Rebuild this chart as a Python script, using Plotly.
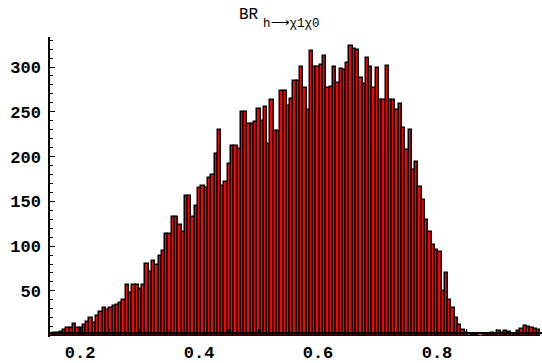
import numpy as np
import plotly.graph_objects as go

# histogram data
bin_start = 0.1495
bin_width = 0.00553
counts = [
    2, 3, 3, 4, 6, 9, 9, 13, 8, 8,
    12, 15, 20, 14, 22, 26, 31, 29, 31, 33,
    34, 37, 40, 57, 48, 57, 57, 52, 57, 80,
    71, 83, 79, 89, 94, 114, 114, 132, 132, 124,
    116, 156, 156, 132, 145, 165, 167, 165, 176, 179,
    203, 230, 167, 172, 192, 212, 212, 208, 250, 250,
    236, 236, 239, 253, 240, 255, 214, 263, 228, 228,
    273, 273, 257, 264, 284, 284, 300, 276, 252, 318,
    300, 300, 302, 312, 277, 278, 300, 282, 298, 297,
    304, 324, 320, 319, 288, 281, 310, 300, 276, 299,
    263, 263, 301, 263, 263, 252, 259, 232, 207, 230,
    185, 194, 166, 151, 129, 116, 101, 96, 93, 50,
    70, 40, 31, 20, 12, 6, 3, 0, 1, 2,
    0, 0, 2, 2, 3, 2, 5, 3, 5, 4,
    2, 2, 5, 7, 11, 10, 8, 7, 6,
]
x_ticks = [0.2, 0.4, 0.6, 0.8]
x_tick_labels = ["0.2", "0.4", "0.6", "0.8"]
y_ticks = [50, 100, 150, 200, 250, 300]
y_tick_labels = ["50", "100", "150", "200", "250", "300"]
title_main = "BR"
title_sub = "h\u27f6\u03c71\u03c70"

centers = bin_start + (np.arange(len(counts)) + 0.5) * bin_width

y_lo, y_hi = -1.5, 333.5
axis_y = 3.1

fig = go.Figure()
fig.add_trace(go.Bar(
    x=centers, y=counts, width=bin_width,
    marker=dict(color="#ff0000", line=dict(color="black", width=1.5)),
    hoverinfo="skip",
))

font_fam = "Liberation Mono"
fig.update_layout(
    width=542, height=363,
    margin=dict(l=50, r=0, t=37, b=26),
    paper_bgcolor="white", plot_bgcolor="white",
    showlegend=False, bargap=0,
    xaxis=dict(
        range=[0.1495, 0.9765], anchor="free", position=(axis_y - y_lo) / (y_hi - y_lo),
        showgrid=False, zeroline=False, showline=True, linecolor="black", linewidth=1.5,
        tickmode="array", tickvals=x_ticks, ticktext=x_tick_labels,
        ticks="inside", ticklen=5, tickwidth=1, tickcolor="black",
        minor=dict(dtick=0.05, tick0=0, ticks="inside", ticklen=3, tickcolor="black"),
        tickfont=dict(family=font_fam, size=17, color="black", weight="bold"),
        ticklabelstandoff=4,
    ),
    yaxis=dict(
        range=[y_lo, y_hi], showgrid=False, zeroline=False,
        showline=True, linecolor="black", linewidth=1.5,
        tickmode="array", tickvals=y_ticks, ticktext=y_tick_labels,
        ticks="inside", ticklen=5, tickwidth=1, tickcolor="black",
        minor=dict(dtick=10, tick0=0, ticks="inside", ticklen=3, tickcolor="black"),
        tickfont=dict(family=font_fam, size=17, color="black", weight="bold"),
        ticklabelstandoff=4,
    ),
)

fig.add_annotation(text=title_main, xref="paper", yref="paper",
                   x=(261 - 50) / 492, y=(337 - 15) / 300, xanchor="right",
                   yanchor="middle", showarrow=False,
                   font=dict(family=font_fam, size=16, color="black"))
fig.add_annotation(text=title_sub, xref="paper", yref="paper",
                   x=(261 - 50) / 492, y=(337 - 24) / 300, xanchor="left",
                   yanchor="middle", showarrow=False,
                   font=dict(family=font_fam, size=12.5, color="black"))

fig.write_html("out.html")
